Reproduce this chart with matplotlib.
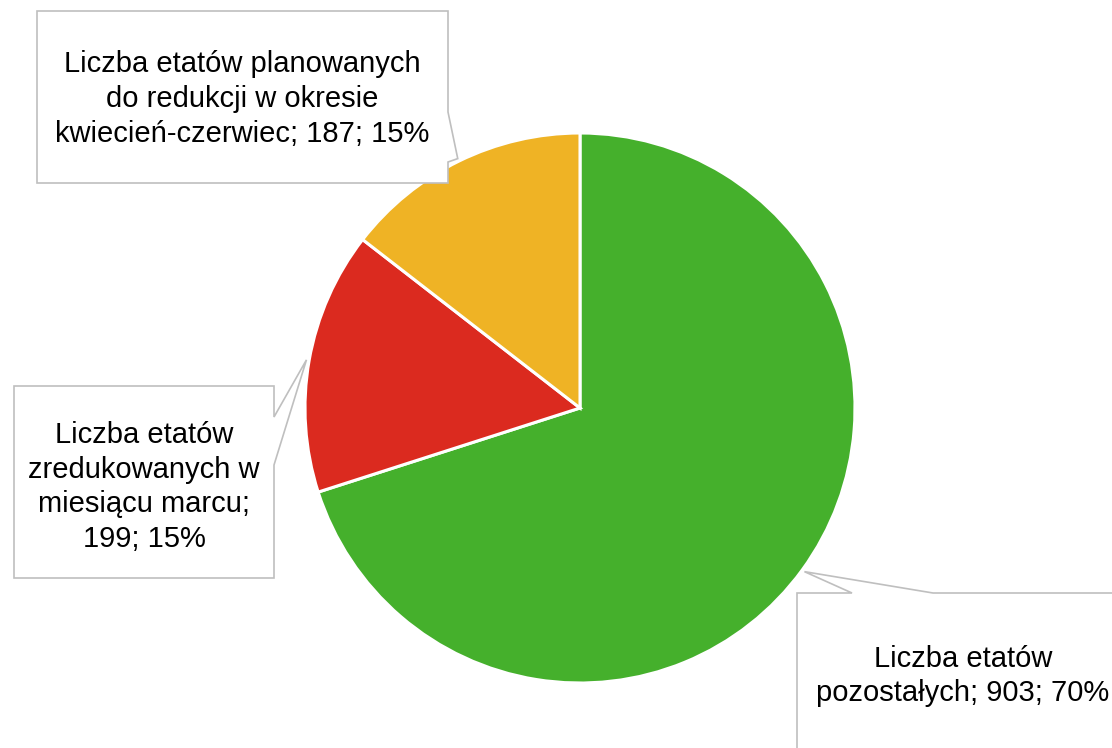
import numpy as np
import matplotlib.pyplot as plt
from matplotlib.patches import Polygon

plt.rcParams['font.family'] = ['Liberation Sans', 'DejaVu Sans']

labels = ['Liczba etatów\npozostałych', 'Liczba etatów\nzredukowanych w\nmiesiącu marcu;',
          'Liczba etatów planowanych\ndo redukcji w okresie\nkwiecień-czerwiec']
values = [903, 199, 187]
percents = ['70%', '15%', '15%']
colors = ['#45B02C', '#DB2A1F', '#EFB325']

W, H = 1112, 748
fig = plt.figure(figsize=(W / 100, H / 100), dpi=100)
ax = fig.add_axes([0, 0, 1, 1])
ax.set_xlim(0, W)
ax.set_ylim(0, H)
ax.set_aspect('equal')
ax.axis('off')

cx, cy, r = 580, H - 408, 275
wedges, _ = ax.pie(values, colors=colors, startangle=90, counterclock=False,
                   center=(cx, cy), radius=r,
                   wedgeprops=dict(edgecolor='white', linewidth=2.2))
ax.set_xlim(0, W)
ax.set_ylim(0, H)


def tip(w):
    a = np.deg2rad((w.theta1 + w.theta2) / 2)
    return (cx + r * 1.01 * np.cos(a), cy + r * 1.01 * np.sin(a))


def P(x, y):
    return (x, H - y)


# callout boxes (pixel layout, y from top)
t_green, t_red, t_yel = tip(wedges[0]), tip(wedges[1]), tip(wedges[2])
boxes = [
    [P(797, 593), P(852, 593), t_green, P(933, 593), P(1130, 593), P(1130, 760), P(797, 760)],
    [P(14, 386), P(274, 386), P(274, 417), t_red, P(274, 465), P(274, 578), P(14, 578)],
    [P(37, 11), P(448, 11), P(448, 112), t_yel, P(448, 162), P(448, 183), P(37, 183)],
]
for pts in boxes:
    ax.add_patch(Polygon(pts, closed=True, facecolor='white', edgecolor='#BFBFBF',
                         linewidth=1.2, clip_on=False, zorder=3))

texts = [
    (963, 676, f'{labels[0]}; {values[0]}; {percents[0]}'),
    (144, 487, f'{labels[1]}\n{values[1]}; {percents[1]}'),
    (242, 99, f'{labels[2]}; {values[2]}; {percents[2]}'),
]
for x, y, s in texts:
    ax.text(x, H - y, s, ha='center', va='center', fontsize=21,
            linespacing=1.3, color='black', zorder=4)

fig.savefig('out.png', dpi=100)
